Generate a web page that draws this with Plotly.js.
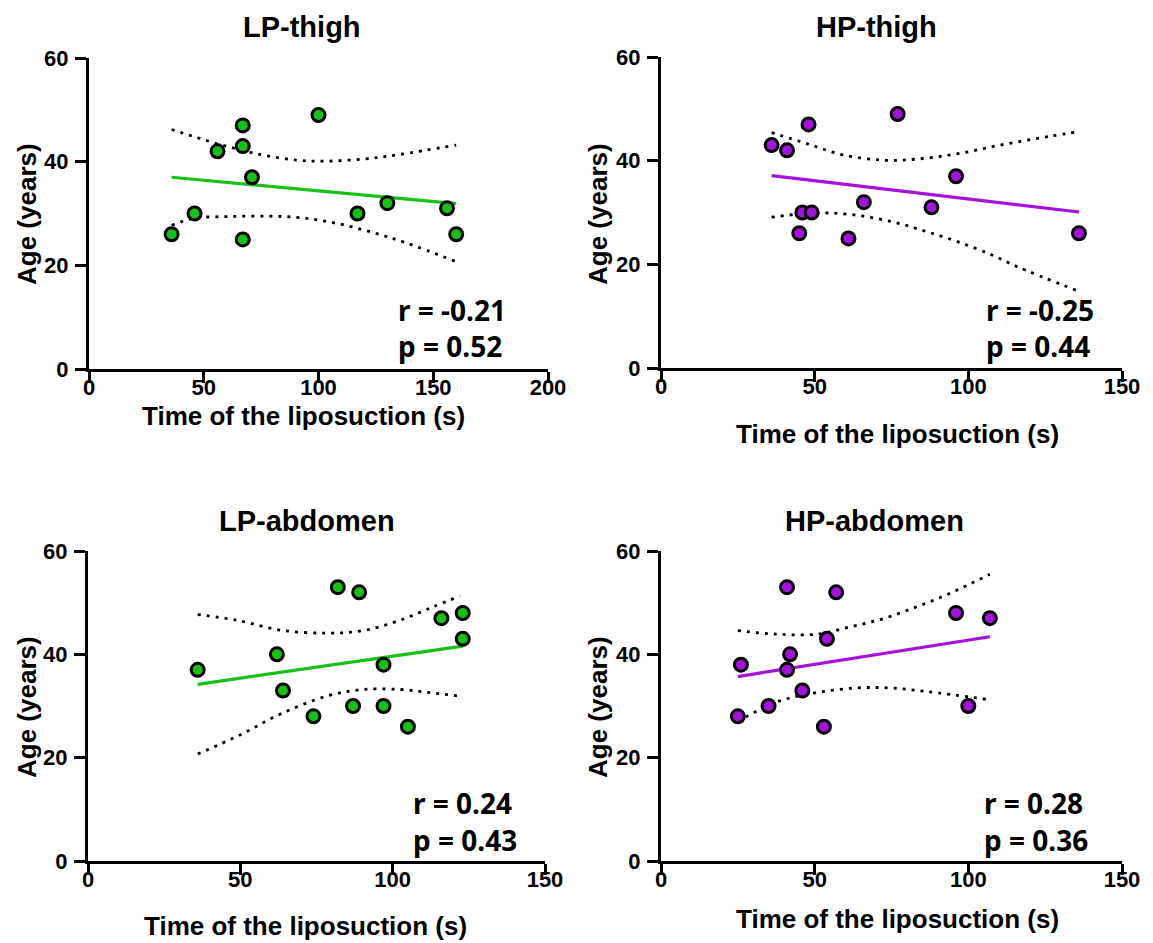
<!DOCTYPE html>
<html>
<head>
<meta charset="utf-8">
<script src="https://cdn.plot.ly/plotly-3.0.1.min.js"></script>
<style>
html,body{margin:0;padding:0;background:#fff;}
#chart{width:1153px;height:943px;}
</style>
</head>
<body>
<div id="chart"></div>
<script>
// ---------- DATA ----------
const panelTitles = ["LP-thigh", "HP-thigh", "LP-abdomen", "HP-abdomen"];
const xTitle = "Time of the liposuction (s)";
const yTitle = "Age (years)";
const rLabels = ["r = -0.21", "r = -0.25", "r = 0.24", "r = 0.28"];
const pLabels = ["p = 0.52", "p = 0.44", "p = 0.43", "p = 0.36"];

// LP-thigh
const lpThighTime = [36, 46, 56, 67, 67, 67, 71, 100, 117, 130, 156, 160];
const lpThighAge  = [26, 30, 42, 47, 43, 25, 37, 49, 30, 32, 31, 26];
const lpThighFitX = [36, 160];
const lpThighFitY = [37.0, 31.9];
const lpThighUpX  = [36, 55.6, 74.5, 90.5, 102.8, 119.5, 135.5, 160];
const lpThighUpY  = [46.2, 43.5, 41.4, 40.3, 40.1, 40.5, 41.4, 43.2];
const lpThighLoX  = [36, 45.9, 60, 75.9, 91.9, 107.9, 123.9, 138.4, 160];
const lpThighLoY  = [27.7, 29.1, 29.4, 29.5, 29.2, 28.1, 26.3, 24.3, 20.7];

// HP-thigh
const hpThighTime = [36, 41, 48, 46, 49, 45, 61, 66, 77, 88, 96, 136];
const hpThighAge  = [43, 42, 47, 30, 30, 26, 25, 32, 49, 31, 37, 26];
const hpThighFitX = [36, 136];
const hpThighFitY = [37.1, 30.1];
const hpThighUpX  = [36, 47.4, 59.3, 72.3, 83.2, 96.2, 110.3, 126.6, 136];
const hpThighUpY  = [45.4, 43.3, 41.1, 40.1, 40.3, 41.3, 43.0, 44.7, 45.6];
const hpThighLoX  = [36, 45.2, 55, 65.8, 76.7, 86.5, 97.3, 108.1, 115.7, 136];
const hpThighLoY  = [29.1, 29.7, 29.9, 29.3, 28.0, 26.3, 24.2, 21.7, 19.6, 14.8];

// LP-abdomen
const lpAbdTime = [36, 62, 64, 74, 82, 89, 87, 97, 97, 105, 116, 123, 123];
const lpAbdAge  = [37, 40, 33, 28, 53, 52, 30, 38, 30, 26, 47, 48, 43];
const lpAbdFitX = [36, 123];
const lpAbdFitY = [34.2, 41.6];
const lpAbdUpX  = [36, 48.8, 63, 78.3, 90.4, 102.4, 113.3, 122.1];
const lpAbdUpY  = [47.7, 46.6, 44.7, 44.1, 44.6, 46.6, 49.2, 51.3];
const lpAbdLoX  = [36, 49.9, 63, 78.3, 90.4, 102.4, 112.2, 122.1];
const lpAbdLoY  = [20.7, 24.4, 28.4, 31.9, 33.2, 33.2, 32.6, 31.9];

// HP-abdomen
const hpAbdTime = [25, 26, 35, 41, 42, 41, 46, 53, 54, 57, 96, 100, 107];
const hpAbdAge  = [28, 38, 30, 53, 40, 37, 33, 26, 43, 52, 48, 30, 47];
const hpAbdFitX = [25, 107];
const hpAbdFitY = [35.7, 43.4];
const hpAbdUpX  = [25, 37.7, 50.7, 61.5, 72.3, 83.2, 94.0, 107];
const hpAbdUpY  = [44.6, 43.9, 43.9, 45.3, 46.9, 49.2, 51.8, 55.5];
const hpAbdLoX  = [25, 37.7, 50.7, 63.7, 74.5, 86.5, 107];
const hpAbdLoY  = [27.0, 30.8, 32.6, 33.5, 33.5, 32.8, 31.2];

const xMax = [200, 150, 150, 150];
const xTicks = [[0, 50, 100, 150, 200], [0, 50, 100, 150], [0, 50, 100, 150], [0, 50, 100, 150]];
const yTicks = [0, 20, 40, 60];

// ---------- STYLE ----------
const GREEN = "#16c216";
const PURPLE = "#a512e0";
const W = 1153, H = 943;
const px = v => v / W;
const py = v => 1 - v / H;

// plot-area rectangles in pixels [left, right, top, bottom]
const boxes = [
  [89, 548, 58, 369],
  [661, 1122, 57, 368],
  [88, 545, 551, 861],
  [661, 1122, 551, 861]
];
const titlePos = [[302, 27], [876, 27], [307, 521], [874, 521]];
const xTitlePos = [[303, 416], [897, 434], [305, 926], [897, 919]];
const yTitlePos = [[27, 214], [598, 214], [27, 707], [598, 707]];
const rpPos = [[397, 310, 346], [985, 310, 346], [412, 803, 840], [983, 803, 840]];

const panels = [
  {t: lpThighTime, a: lpThighAge, fx: lpThighFitX, fy: lpThighFitY, ux: lpThighUpX, uy: lpThighUpY, lx: lpThighLoX, ly: lpThighLoY, c: GREEN},
  {t: hpThighTime, a: hpThighAge, fx: hpThighFitX, fy: hpThighFitY, ux: hpThighUpX, uy: hpThighUpY, lx: hpThighLoX, ly: hpThighLoY, c: PURPLE},
  {t: lpAbdTime, a: lpAbdAge, fx: lpAbdFitX, fy: lpAbdFitY, ux: lpAbdUpX, uy: lpAbdUpY, lx: lpAbdLoX, ly: lpAbdLoY, c: GREEN},
  {t: hpAbdTime, a: hpAbdAge, fx: hpAbdFitX, fy: hpAbdFitY, ux: hpAbdUpX, uy: hpAbdUpY, lx: hpAbdLoX, ly: hpAbdLoY, c: PURPLE}
];

const SANS = "Liberation Sans, Arial, sans-serif";
const tickFont = {family: SANS, size: 22, color: "#000", weight: "bold"};
const axTitleFont = {family: SANS, size: 26, color: "#000", weight: "bold"};
const rpFont = {family: "Noto Sans, Open Sans, sans-serif", size: 28, color: "#000", weight: "bold"};
const traces = [];
const layout = {
  width: W, height: H,
  margin: {l: 0, r: 0, t: 0, b: 0},
  paper_bgcolor: "#fff", plot_bgcolor: "#fff",
  showlegend: false,
  annotations: []
};

function paperText(x, y, text, font, xanchor, angle) {
  const a = {xref: "paper", yref: "paper", x: px(x), y: py(y),
    xanchor: xanchor || "center", yanchor: "middle", showarrow: false,
    borderpad: 0, text: text, font: font};
  if (angle) a.textangle = angle;
  return a;
}

panels.forEach((p, i) => {
  const n = i + 1;
  const xa = n === 1 ? "x" : "x" + n;
  const ya = n === 1 ? "y" : "y" + n;
  const b = boxes[i];
  const bandLine = {color: "#000", width: 2.8, dash: "3px,6px", shape: "spline"};
  traces.push({x: p.ux, y: p.uy, xaxis: xa, yaxis: ya, mode: "lines", type: "scatter", line: bandLine});
  traces.push({x: p.lx, y: p.ly, xaxis: xa, yaxis: ya, mode: "lines", type: "scatter", line: bandLine});
  traces.push({x: p.fx, y: p.fy, xaxis: xa, yaxis: ya, mode: "lines", type: "scatter",
    line: {color: p.c, width: 3.2}});
  traces.push({x: p.t, y: p.a, xaxis: xa, yaxis: ya, mode: "markers", type: "scatter",
    cliponaxis: false,
    marker: {size: 13, color: p.c, line: {color: "#000", width: 3}}});

  const axCommon = {
    showline: true, linecolor: "#000", linewidth: 3,
    ticks: "outside", ticklen: 11, tickwidth: 3, tickcolor: "#000",
    showgrid: false, zeroline: false, tickfont: tickFont, fixedrange: true
  };
  layout["xaxis" + (n === 1 ? "" : n)] = Object.assign({}, axCommon, {
    domain: [px(b[0]), px(b[1])], anchor: ya, range: [0, xMax[i]],
    tickvals: xTicks[i], ticklabelstandoff: -14
  });
  layout["yaxis" + (n === 1 ? "" : n)] = Object.assign({}, axCommon, {
    domain: [py(b[3]), py(b[2])], anchor: xa, range: [0, 60],
    tickvals: yTicks, ticklabelstandoff: 2
  });

  layout.annotations.push(paperText(titlePos[i][0], titlePos[i][1], panelTitles[i],
    {family: SANS, size: 29, color: "#000", weight: "bold"}));
  layout.annotations.push(paperText(xTitlePos[i][0], xTitlePos[i][1], xTitle, axTitleFont));
  layout.annotations.push(paperText(yTitlePos[i][0], yTitlePos[i][1], yTitle, axTitleFont, "center", -90));
  const rp = rpPos[i];
  layout.annotations.push(paperText(rp[0], rp[1], rLabels[i], rpFont, "left"));
  layout.annotations.push(paperText(rp[0], rp[2], pLabels[i], rpFont, "left"));
});

Plotly.newPlot("chart", traces, layout, {displayModeBar: false, staticPlot: true});
</script>
</body>
</html>
